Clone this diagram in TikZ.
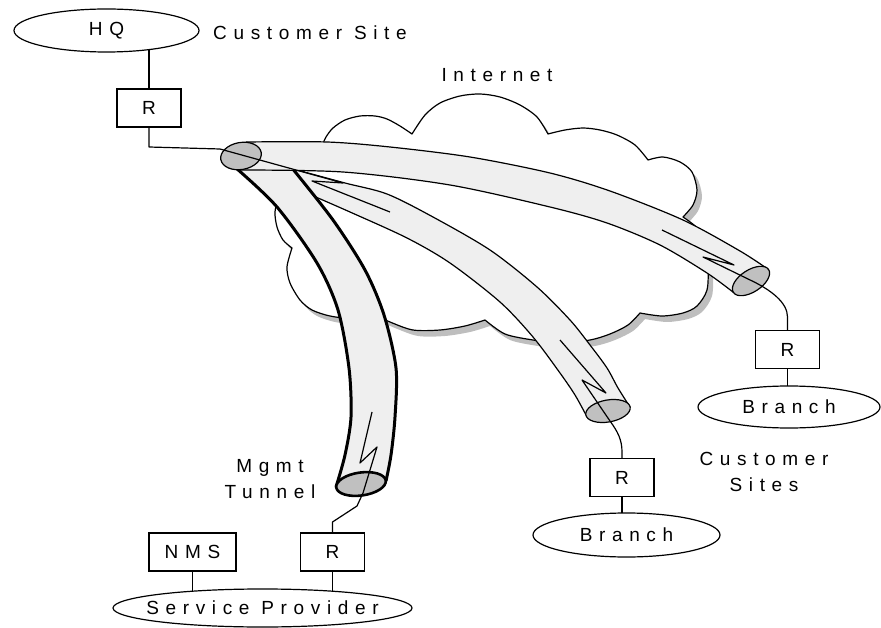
\documentclass[tikz,border=0pt]{standalone}
\usepackage{fontspec}
\setmainfont{Liberation Sans}[LetterSpace=35]
\usetikzlibrary{shapes.geometric}
\pgfdeclarelayer{back}
\pgfdeclarelayer{wires}
\pgfsetlayers{back,wires,main}

\definecolor{tubefill}{HTML}{EFEFEF}
\definecolor{mouthfill}{HTML}{C0C0C0}
\definecolor{shadowgray}{HTML}{BEBEBE}

\tikzset{
  every node/.style={font=\fontsize{19}{26}\selectfont},
  site/.style={ellipse, draw, fill=white, line width=1.2pt, inner sep=0pt},
  router/.style={rectangle, draw, fill=white, line width=1.2pt,
    minimum width=64pt, minimum height=38pt, inner sep=0pt},
  lbl/.style={inner sep=0pt},
  wire/.style={line width=1.2pt, line join=round},
  tubeedge/.style={line width=1.2pt},
  mgmtedge/.style={line width=3pt},
  mouth/.style={draw, fill=mouthfill, line width=1.2pt},
}

% outline of the Internet cloud, bump by bump
\def\cloudoutline{
  plot[smooth] coordinates {(322,146) (326,137) (333,128) (345,120) (360,116) (375,116) (387,119) (400,126) (412,134)}
  -- plot[smooth] coordinates {(412,134) (425,115) (440,103) (460,96) (480,94) (500,97) (520,105) (537,117) (548,134)}
  -- plot[smooth] coordinates {(548,134) (565,130) (583,128) (600,130) (617,135) (635,145) (648,160)}
  -- plot[smooth] coordinates {(648,160) (663,157) (680,162) (692,172) (697,190) (693,205) (683,217)}
  -- plot[smooth] coordinates {(683,217) (697,228) (705,245) (708,265) (707,290) (697,306) (683,313) (662,316) (640,313)}
  -- plot[smooth] coordinates {(640,313) (628,325) (610,334) (590,340) (560,343) (533,340) (505,334) (485,320)}
  -- plot[smooth] coordinates {(485,320) (465,326) (440,330) (413,330) (390,322) (368,312)}
  -- plot[smooth] coordinates {(368,312) (350,318) (330,316) (312,310) (300,300) (290,283) (287,267) (292,248)}
  -- plot[smooth] coordinates {(292,248) (283,240) (277,227) (275,212) (279,198) (290,185) (305,170) (316,156) (322,146)}
}

\begin{document}
\begin{tikzpicture}[x=1pt, y=-1pt]
\useasboundingbox (0,0) rectangle (881,628);

% ---- sites, routers and labels
\node[site, minimum width=185pt, minimum height=43pt, label=center:HQ] (hq) at (106.5,30.5) {};
\node[lbl, anchor=west] (custsite) at (213,33) {Customer Site};
\node[router] (hqR) at (149,108) {R};
\node[lbl] (inet) at (497,75) {Internet};

\node[router] (rightR) at (787.5,349.5) {R};
\node[site, minimum width=182pt, minimum height=42pt, label=center:Branch] (rightBr) at (789,407) {};
\node[router] (midR) at (622,477.5) {R};
\node[site, minimum width=187pt, minimum height=44pt, label=center:Branch] (midBr) at (626.5,535) {};
\node[lbl, align=center] (custsites) at (764,472) {Customer\\Sites};

\node[lbl, align=center] (mgmt) at (270,479) {Mgmt\\Tunnel};
\node[router, minimum width=87pt] (nms) at (192.5,552) {NMS};
\node[router] (spR) at (332.5,552) {R};
\node[site, minimum width=299pt, minimum height=38pt, label=center:Service Provider] (sp) at (262.5,608) {};

% ---- cloud and tunnels
\begin{pgfonlayer}{back}
  \begin{scope}[shift={(5,6)}]
    \fill[shadowgray] \cloudoutline -- cycle;
  \end{scope}
  \draw[fill=white, line width=1.2pt, line join=round] \cloudoutline -- cycle;

  % tunnel to the lower branch
  \fill[tubefill]
    plot[smooth] coordinates {(297,170) (345,183) (387,194) (433,217) (490,250) (537,287) (570,320) (590,345) (607,368) (618,388) (630,407)}
    -- plot[smooth] coordinates {(586,415) (575,395) (560,373) (533,337) (500,302) (450,263) (407,238) (350,212) (295,188)}
    -- cycle;
  \draw[tubeedge] plot[smooth] coordinates {(297,170) (345,183) (387,194) (433,217) (490,250) (537,287) (570,320) (590,345) (607,368) (618,388) (630,407)};
  \draw[tubeedge] plot[smooth] coordinates {(586,415) (575,395) (560,373) (533,337) (500,302) (450,263) (407,238) (350,212) (295,188)};
  \draw[mouth] (608,411) ellipse[x radius=22.5, y radius=11, rotate=10];

  % management tunnel
  \fill[tubefill]
    plot[smooth] coordinates {(236,168) (277,207) (317,263) (338,310) (349,368) (351,417) (345,455) (336,487)}
    -- plot[smooth] coordinates {(386,481) (391,455) (395,417) (396,368) (384,315) (365,270) (333,220) (292,168)}
    -- cycle;
  \draw[mgmtedge] plot[smooth] coordinates {(236,168) (277,207) (317,263) (338,310) (349,368) (351,417) (345,455) (336,487)};
  \draw[mgmtedge] plot[smooth] coordinates {(386,481) (391,455) (395,417) (396,368) (384,315) (365,270) (333,220) (292,168)};
  \draw[mouth, line width=2.6pt] (361,484) ellipse[x radius=25, y radius=11.5, rotate=8];

  % tunnel to the upper branch
  \fill[tubefill]
    plot[smooth] coordinates {(246,142) (327,142) (390,147) (470,157) (550,173) (610,191) (683,220) (740,251) (768.6,269.6)}
    -- plot[smooth] coordinates {(733.4,292.4) (707,273) (660,245) (607,223) (550,207) (450,185) (343,172) (237,170)}
    -- cycle;
  \draw[tubeedge] plot[smooth] coordinates {(246,142) (327,142) (390,147) (470,157) (550,173) (610,191) (683,220) (740,251) (768.6,269.6)};
  \draw[tubeedge] plot[smooth] coordinates {(733.4,292.4) (707,273) (660,245) (607,223) (550,207) (450,185) (343,172) (237,170)};
  \draw[mouth] (241,156) ellipse[x radius=20.5, y radius=13.5, rotate=10];
  \draw[mouth] (751,281) ellipse[x radius=21, y radius=11, rotate=33];
\end{pgfonlayer}

% ---- connections
\begin{pgfonlayer}{wires}
  \coordinate (hqbend) at (149,147);
  \coordinate (hqin) at (220,149);
  \coordinate (zA1) at (343,183);
  \coordinate (zB1) at (312,181);
  \coordinate (zC1) at (390,212);
  \draw[wire] (hqR.north) -- (hqR.north |- hq.center);
  \draw[wire] (hqR.south) -- (hqbend) -- (hqin) -- (zA1) -- (zB1) -- (zC1);

  \coordinate (zA2) at (662,230);
  \coordinate (zB2) at (734,265);
  \coordinate (zC2) at (703,257);
  \coordinate (zD2) at (748,279);
  \draw[wire] (zA2) -- (zB2) -- (zC2) -- (zD2)
    .. controls (772,290) and (787.5,303) .. (787.5,317) -- (rightR.north);
  \draw[wire] (rightR.south) -- (rightR.south |- rightBr.center);

  \coordinate (zA3) at (560,340);
  \coordinate (zB3) at (606,393);
  \coordinate (zC3) at (582,380);
  \coordinate (zD3) at (610,421);
  \draw[wire] (zA3) -- (zB3) -- (zC3) -- (zD3)
    .. controls (618,432) and (622,440) .. (622,452) -- (midR.north);
  \draw[wire] (midR.south) -- (midR.south |- midBr.center);

  \coordinate (zA4) at (372,412);
  \coordinate (zB4) at (360,463);
  \coordinate (zC4) at (377,447);
  \coordinate (zD4) at (363,493);
  \draw[wire] (zA4) -- (zB4) -- (zC4) -- (zD4) -- (357,506) -- (332.5,522) -- (spR.north);
  \draw[wire] (spR.south) -- (spR.south |- sp.center);
  \draw[wire] (nms.south) -- (nms.south |- sp.center);
\end{pgfonlayer}
\end{tikzpicture}
\end{document}
